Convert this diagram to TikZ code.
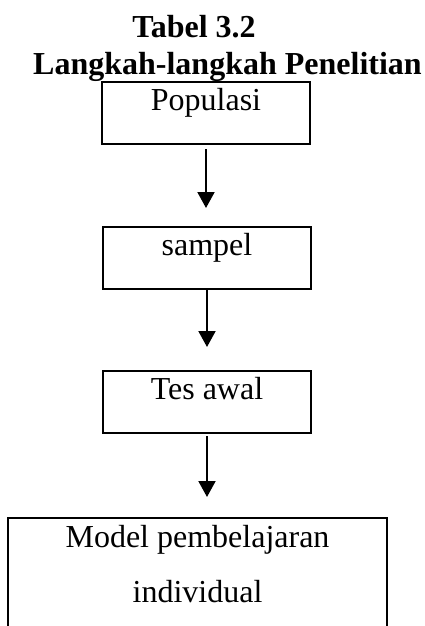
\documentclass[tikz,border=0pt]{standalone}
\usepackage{fontspec}
\setmainfont{Liberation Serif}
\usetikzlibrary{arrows.meta,calc}
\begin{document}
\begin{tikzpicture}[x=0.75pt,y=-0.75pt,
  box/.style={draw, line width=1.5pt, minimum width=156pt, minimum height=46.5pt, inner sep=0pt, anchor=north},
  lbl/.style={anchor=base, inner sep=0pt, font=\fontsize{24}{28}\selectfont},
  ttl/.style={anchor=base, inner sep=0pt, font=\fontsize{24}{28}\selectfont\bfseries},
  flow/.style={line width=1.5pt, -{Triangle[width=12.75pt,length=12pt]}}]
\useasboundingbox (0,0) rectangle (425,626);
\clip (0,0) rectangle (425,626);
\node[ttl] (t1) at (194,37) {Tabel 3.2};
\node[ttl] (t2) at (227.5,74) {Langkah-langkah Penelitian};
\node[box] (pop) at (206,81) {};
\node[lbl] (popt) at (206,110) {Populasi};
\node[box] (samp) at (207,226) {};
\node[lbl] (sampt) at (207,255) {sampel};
\node[box] (tes) at (207,370) {};
\node[lbl] (test) at (207,399) {Tes awal};
\node[box, minimum width=284.25pt, minimum height=112.5pt] (model) at (197.5,517) {};
\node[lbl] (modelt1) at (197.5,547) {Model pembelajaran};
\node[lbl] (modelt2) at (197.5,602) {individual};
\draw[flow] ([yshift=-3pt]pop.south) -- ($(pop.south |- samp.north)+(0,-18)$);
\draw[flow] (samp.south) -- ($(samp.south |- tes.north)+(0,-23)$);
\draw[flow] ([yshift=-1.5pt]tes.south) -- ($(tes.south |- model.north)+(0,-20)$);
\end{tikzpicture}
\end{document}
